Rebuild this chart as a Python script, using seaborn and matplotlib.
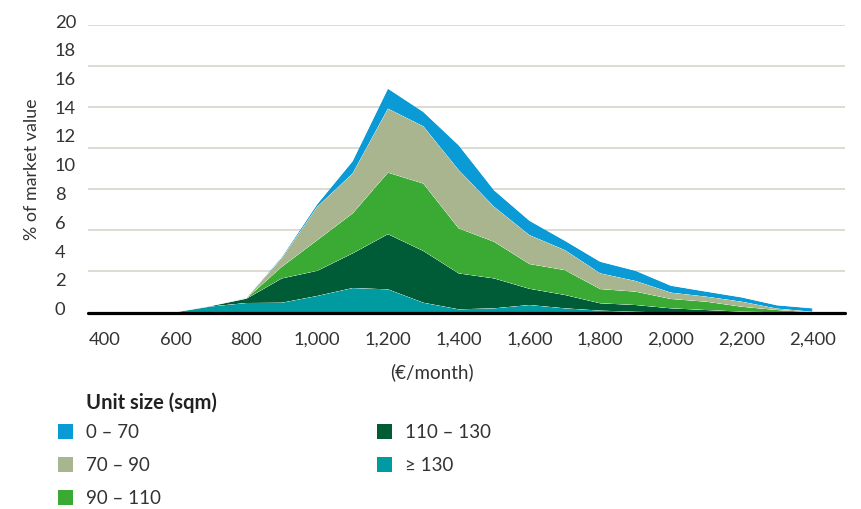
import numpy as np
import pandas as pd
import matplotlib
matplotlib.use("Agg")
import matplotlib.pyplot as plt
import matplotlib.transforms as mtransforms
from matplotlib.patches import Patch
import seaborn as sns
import seaborn.objects as so

# Monthly rent bands (€/month)
rent = [400, 500, 600, 700, 800, 900, 1000, 1100, 1200, 1300, 1400,
        1500, 1600, 1700, 1800, 1900, 2000, 2100, 2200, 2300, 2400]

# Share of market value (%) by unit size, stacked bottom to top
share_130_plus = [0, 0, 0.02, 0.42, 0.66, 0.68, 1.15, 1.70, 1.61, 0.68, 0.22,
                  0.29, 0.52, 0.29, 0.13, 0.05, 0, 0, 0, 0, 0]
share_110_130 = [0, 0, 0, 0.03, 0.30, 1.69, 1.75, 2.41, 3.84, 3.60, 2.50,
                 2.08, 1.13, 0.93, 0.51, 0.47, 0.29, 0.17, 0.06, 0.02, 0]
share_90_110 = [0, 0, 0, 0, 0.02, 0.81, 2.13, 2.78, 4.28, 4.69, 3.13,
                2.55, 1.72, 1.73, 0.99, 0.93, 0.65, 0.58, 0.34, 0.15, 0.02]
share_70_90 = [0, 0, 0, 0, 0.02, 0.60, 2.32, 2.78, 4.45, 3.98, 4.05,
               2.43, 2.01, 1.39, 1.09, 0.74, 0.44, 0.35, 0.35, 0.10, 0.03]
share_0_70 = [0, 0, 0, 0, 0.02, 0.07, 0.18, 0.85, 1.39, 1.00, 1.73,
              1.15, 1.00, 0.65, 0.81, 0.71, 0.48, 0.35, 0.30, 0.23, 0.24]

bands_bottom_up = ["≥ 130", "110 – 130", "90 – 110", "70 – 90", "0 – 70"]
legend_order = ["0 – 70", "70 – 90", "90 – 110", "110 – 130", "≥ 130"]
band_values = [share_130_plus, share_110_130, share_90_110, share_70_90, share_0_70]

x_ticks = [400, 600, 800, 1000, 1200, 1400, 1600, 1800, 2000, 2200, 2400]
y_ticks = [0, 2, 4, 6, 8, 10, 12, 14, 16, 18, 20]

palette = {
    "0 – 70": "#0A9BD7",
    "70 – 90": "#A8B58F",
    "90 – 110": "#3AAA35",
    "110 – 130": "#005C36",
    "≥ 130": "#009BA0",
}

df = pd.concat(
    [pd.DataFrame({"rent": rent, "share": vals, "band": band})
     for band, vals in zip(bands_bottom_up, band_values)],
    ignore_index=True,
)

sns.set_theme(style="white")
plt.rcParams["font.family"] = ["Lato", "DejaVu Sans"]
text_color = "#333333"

fig = plt.figure(figsize=(8.62, 5.09), dpi=100)
ax = fig.add_axes([88 / 862, 1 - 312.5 / 509, 757 / 862, 287.5 / 509])

(
    so.Plot(df, x="rent", y="share", color="band")
    .add(so.Area(alpha=1, edgewidth=0), so.Stack(), legend=False)
    .scale(color=so.Nominal(palette, order=bands_bottom_up))
    .theme({"axes.facecolor": "white", "axes.grid": False,
            "font.family": ["Lato", "DejaVu Sans"]})
    .on(ax)
    .plot()
)

ax.set_xlim(352, 2492)
ax.set_ylim(0, 20)
for side in ["top", "right", "left", "bottom"]:
    ax.spines[side].set_visible(False)

# Horizontal guides and the baseline
for v in np.linspace(0, 20, 8)[1:]:
    ax.axhline(v, color="#D2D2C6", lw=1.1, zorder=0.5)
ax.axhline(0, color="black", lw=2.3, zorder=5, clip_on=False)

# Axis ticks
ax.set_xticks(x_ticks)
ax.set_xticklabels([f"{t:,}" for t in x_ticks])
ax.tick_params(axis="x", length=0, pad=14, labelsize=13.2, labelcolor=text_color)

ax.set_yticks(y_ticks)
ax.set_yticklabels([str(t) for t in y_ticks])
ax.tick_params(axis="y", length=0, pad=24, labelsize=13.2, labelcolor=text_color)
shift_up = mtransforms.ScaledTranslation(0, 4 / 100, fig.dpi_scale_trans)
for lbl in ax.get_yticklabels():
    lbl.set_ha("left")
    lbl.set_transform(lbl.get_transform() + shift_up)

ax.set_ylabel("% of market value", fontsize=12.9, color=text_color)
ax.yaxis.set_label_coords(-0.0634, 0.5)
ax.set_xlabel("(€/month)", fontsize=13.5, color=text_color)
ax.xaxis.set_label_coords(0.454, -0.178)

# Legend
fig.text(86 / 862, 1 - 403 / 509, "Unit size (sqm)", fontsize=14.5,
         fontweight="bold", ha="left", va="center", color="#222222")
handles = [Patch(facecolor=palette[b], edgecolor="none", label=b) for b in legend_order]
fig.legend(handles=handles, ncol=2, loc="upper left",
           bbox_to_anchor=(58 / 862, 1 - 424 / 509), frameon=False,
           fontsize=13.5, handlelength=0.82, handleheight=0.82,
           handletextpad=0.68, labelspacing=0.86, columnspacing=11.5,
           borderaxespad=0, borderpad=0, labelcolor=text_color)

fig.savefig("out.png", dpi=100)
